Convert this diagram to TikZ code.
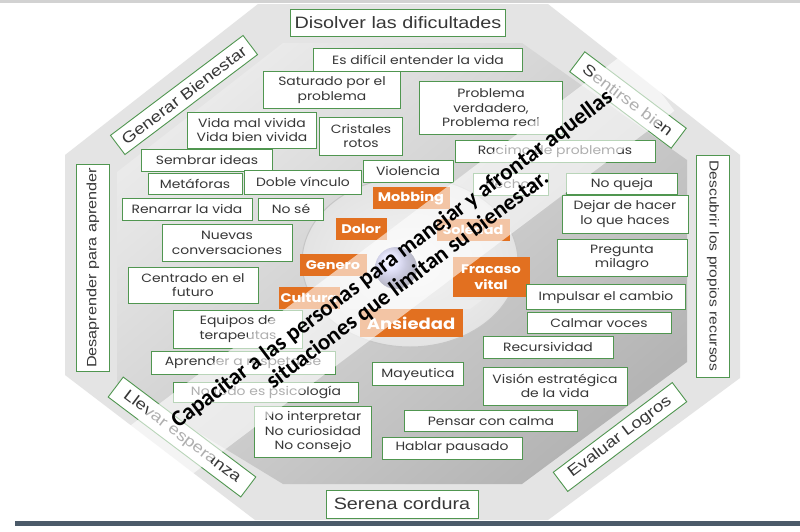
\documentclass[tikz,border=0pt]{standalone}
\usepackage{fontspec}
\usepackage{xcolor}
\usepackage{tikz}
\usetikzlibrary{positioning}

\newfontfamily\ringfont[FakeStretch=1.2]{Liberation Sans}
\newfontfamily\boxfont[FakeStretch=1.16]{Poppins}
\newfontfamily\bandfont{Carlito}

\definecolor{boxgreen}{RGB}{80,150,80}
\definecolor{boxtext}{RGB}{55,55,55}
\definecolor{orangebox}{RGB}{226,112,32}
\definecolor{ringgray}{RGB}{228,228,228}
\definecolor{innerlight}{RGB}{234,234,234}
\definecolor{innerdark}{RGB}{180,180,180}
\definecolor{slate}{RGB}{75,90,105}

\begin{document}
\begin{tikzpicture}[
  x=1pt, y=-1pt,
  gbox/.style={draw=boxgreen, line width=0.8pt, fill=white, text=boxtext, align=center,
    inner sep=0pt, font=\boxfont\fontsize{12}{14.5}\selectfont},
  obox/.style={fill=orangebox, text=white, align=center, inner sep=0pt,
    font=\boxfont\bfseries\fontsize{12.5}{16}\selectfont},
  ring/.style={draw=boxgreen, line width=0.9pt, fill=white, text=boxtext, align=center,
    inner sep=0pt, font=\ringfont\fontsize{15.5}{17}\selectfont},
  band/.style={fill=white, fill opacity=0.6, text opacity=1, align=center, inner sep=0pt,
    font=\bandfont\bfseries\fontsize{23}{26}\selectfont}
]
\useasboundingbox (0,0) rectangle (800,531);
\fill[white] (0,0) rectangle (800,531);
\fill[gray!35] (0,0) rectangle (800,3);
\fill[slate] (15,521) rectangle (800,526);

% octagons
\fill[ringgray] (258,4) -- (548,4) -- (740,155) -- (740,378) -- (548,520)
  -- (255,520) -- (65,375) -- (65,155) -- cycle;
\shade[shading=axis, top color=innerlight, bottom color=innerdark, shading angle=40]
  (283,43) -- (522,43) -- (687,160) -- (687,362) -- (522,484) -- (283,484)
  -- (117,383) -- (117,172) -- cycle;

% disk and sphere
\shade[inner color=gray!8, outer color=gray!22, draw=gray!45, line width=1pt] (410,262) ellipse [x radius=108, y radius=85];
\fill[white!85!gray] (338,300) -- (482,300) -- (470,309) -- (350,309) -- cycle;
\shade[ball color=blue!30!white] (396,268) circle [radius=21];

% problems
\node[obox, minimum width=77, minimum height=22] (mobbing) at (411,198) {Mobbing};
\node[obox, minimum width=51, minimum height=22] (dolor) at (361,229) {Dolor};
\node[obox, minimum width=73, minimum height=22] (soledad) at (473,230) {Soledad};
\node[obox, minimum width=67, minimum height=22] (genero) at (333,265) {Genero};
\node[obox, minimum width=77, minimum height=40] (fracaso) at (491,277) {Fracaso\\vital};
\node[obox, minimum width=61, minimum height=22] (cultura) at (309,298) {Cultura};
\node[obox, minimum width=103, minimum height=28, font=\boxfont\bfseries\fontsize{15.5}{17}\selectfont]
  (ansiedad) at (411,323) {Ansiedad};

% inner boxes
\node[gbox, minimum width=209, minimum height=23] (esdificil) at (418,60) {Es difícil entender la vida};
\node[gbox, minimum width=137, minimum height=37] (saturado) at (332,90) {Saturado por el\\problema};
\node[gbox, minimum width=143, minimum height=53] (problema) at (491,108) {Problema\\verdadero,\\Problema real};
\node[gbox, minimum width=129, minimum height=36] (vidamal) at (252,130) {Vida mal vivida\\Vida bien vivida};
\node[gbox, minimum width=83, minimum height=38] (cristales) at (361,136) {Cristales\\rotos};
\node[gbox, minimum width=131, minimum height=22] (sembrar) at (207,160) {Sembrar ideas};
\node[gbox, minimum width=94, minimum height=21] (metaforas) at (195,184) {Metáforas};
\node[gbox, minimum width=117, minimum height=24] (doble) at (303,182) {Doble vínculo};
\node[gbox, minimum width=90, minimum height=22] (violencia) at (408,171) {Violencia};
\node[gbox, minimum width=200, minimum height=22] (racimo) at (555,151) {Racimo de problemas};
\node[gbox, minimum width=75, minimum height=22] (hechos) at (511,184) {Hechos};
\node[gbox, minimum width=111, minimum height=21] (noqueja) at (622,184) {No queja};
\node[gbox, minimum width=126, minimum height=38] (dejar) at (625,214) {Dejar de hacer\\lo que haces};
\node[gbox, minimum width=130, minimum height=37] (pregunta) at (622,258) {Pregunta\\milagro};
\node[gbox, minimum width=159, minimum height=25] (impulsar) at (606,297) {Impulsar el cambio};
\node[gbox, minimum width=144, minimum height=21] (calmar) at (599,323) {Calmar voces};
\node[gbox, minimum width=130, minimum height=22] (recursividad) at (548,347) {Recursividad};
\node[gbox, minimum width=144, minimum height=38] (vision) at (555,386) {Visión estratégica\\de la vida};
\node[gbox, minimum width=91, minimum height=23] (mayeutica) at (418,374) {Mayeutica};
\node[gbox, minimum width=173, minimum height=21] (pensar) at (491,421) {Pensar con calma};
\node[gbox, minimum width=140, minimum height=22] (hablar) at (452,448) {Hablar pausado};
\node[gbox, minimum width=117, minimum height=51] (nointerp) at (313,432) {No interpretar\\No curiosidad\\No consejo};
\node[gbox, minimum width=185, minimum height=20] (notodo) at (266,392) {No todo es psicología};
\node[gbox, minimum width=184, minimum height=23] (aprender) at (243,363) {Aprender a respetarse};
\node[gbox, minimum width=129, minimum height=38] (equipos) at (238,329) {Equipos de\\terapeutas};
\node[gbox, minimum width=130, minimum height=36] (centrado) at (193,285) {Centrado en el\\futuro};
\node[gbox, minimum width=130, minimum height=37] (nuevas) at (227,243) {Nuevas\\conversaciones};
\node[gbox, minimum width=130, minimum height=22] (renarrar) at (187,209) {Renarrar la vida};
\node[gbox, minimum width=65, minimum height=22] (nose) at (291,209) {No sé};

% outer ring
\node[ring, minimum width=215, minimum height=27, font=\ringfont\fontsize{16.5}{18}\selectfont] (disolver) at (398,23) {Disolver las dificultades};
\node[ring, minimum width=166, minimum height=24, rotate=37] (generar) at (184,95) {Generar Bienestar};
\node[ring, minimum width=127, minimum height=25, rotate=-37] (sentirse) at (628,100) {Sentirse bien};
\node[ring, minimum width=222, minimum height=33, rotate=-90, font=\ringfont\fontsize{13}{15}\selectfont] (descubrir) at (713,266) {Descubrir los propios recursos};
\node[ring, minimum width=149, minimum height=24, rotate=37] (evaluar) at (620,437) {Evaluar Logros};
\node[ring, minimum width=152, minimum height=28, font=\ringfont\fontsize{16.5}{18}\selectfont] (serena) at (402,504) {Serena cordura};
\node[ring, minimum width=166, minimum height=25, rotate=-37] (llevar) at (182,437) {Llevar esperanza};
\node[ring, minimum width=207, minimum height=33, rotate=90, font=\ringfont\fontsize{13.5}{15}\selectfont] (desaprender) at (93,268) {Desaprender para aprender};

% overlay
\node[band, minimum width=630, minimum height=76, rotate=37] (capacitar) at (400,270)
  {Capacitar a las personas para manejar y afrontar aquellas\\situaciones que limitan su bienestar.};
\end{tikzpicture}
\end{document}
